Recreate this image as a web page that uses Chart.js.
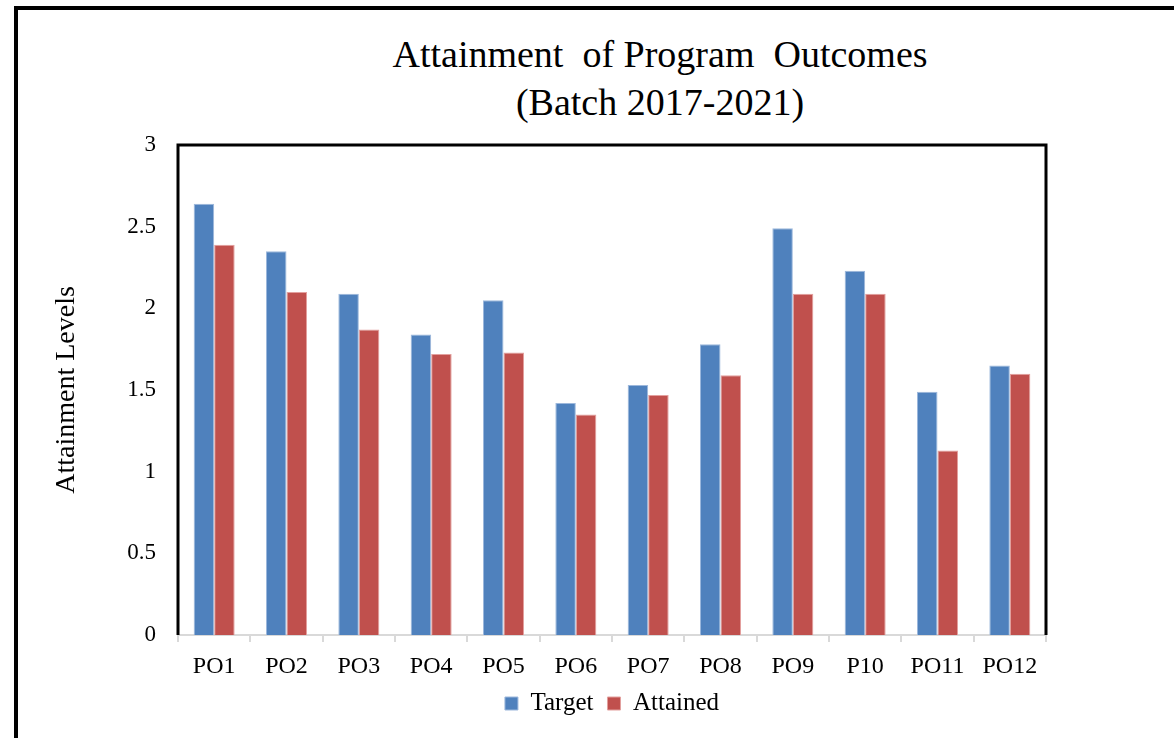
<!DOCTYPE html>
<html lang="en">
<head>
    <meta charset="UTF-8">
    <title>Attainment of Program Outcomes</title>
    <script src="https://cdn.jsdelivr.net/npm/chart.js"></script>
    <style>
        html, body { margin: 0; padding: 0; background: #fff; overflow: hidden; }
        .page { position: relative; width: 1174px; height: 738px; overflow: hidden; }
        .frame { position: absolute; left: 14px; top: 6px; width: 1300px; height: 900px;
                 border-top: 4px solid #000; border-left: 4px solid #000; }
        .title { position: absolute; left: 340px; width: 640px; top: 30px; text-align: center;
                 font-family: "Liberation Serif", "Times New Roman", serif; font-size: 38px;
                 line-height: 48px; color: #000; }
        canvas { position: absolute; left: 0; top: 0; }
    </style>
</head>
<body>
<div class="page">
    <div class="frame"></div>
    <div class="title">Attainment&nbsp; of Program&nbsp; Outcomes<br>(Batch 2017-2021)</div>
    <canvas id="poChart" width="1174" height="738"></canvas>
</div>
<script>
    const categories = ['PO1', 'PO2', 'PO3', 'PO4', 'PO5', 'PO6', 'PO7', 'PO8', 'PO9', 'P10', 'PO11', 'PO12'];
    const targetValues = [2.64, 2.35, 2.09, 1.84, 2.05, 1.42, 1.53, 1.78, 2.49, 2.23, 1.49, 1.65];
    const attainedValues = [2.39, 2.10, 1.87, 1.72, 1.73, 1.35, 1.47, 1.59, 2.09, 2.09, 1.13, 1.60];
    const yTicks = [0, 0.5, 1, 1.5, 2, 2.5, 3];

    const serif = '"Liberation Serif", "Times New Roman", serif';

    // black box round the plot area (left, top, right)
    const plotFrame = {
        id: 'plotFrame',
        afterDatasetsDraw(chart) {
            const { ctx, chartArea: a } = chart;
            ctx.save();
            ctx.strokeStyle = '#000';
            ctx.lineWidth = 3;
            ctx.beginPath();
            ctx.moveTo(a.left, a.bottom);
            ctx.lineTo(a.left, a.top);
            ctx.lineTo(a.right, a.top);
            ctx.lineTo(a.right, a.bottom);
            ctx.stroke();
            ctx.restore();
        }
    };

    new Chart(document.getElementById('poChart'), {
        type: 'bar',
        data: {
            labels: categories,
            datasets: [
                {
                    label: 'Target',
                    data: targetValues,
                    backgroundColor: '#4f81bd',
                    borderColor: '#9db8dc',
                    borderWidth: 1
                },
                {
                    label: 'Attained',
                    data: attainedValues,
                    backgroundColor: '#c0504d',
                    borderColor: '#e3a09e',
                    borderWidth: 1
                }
            ]
        },
        options: {
            responsive: false,
            animation: false,
            layout: { padding: { left: 0, top: 145, right: 128, bottom: 12 } },
            datasets: { bar: { categoryPercentage: 0.567, barPercentage: 1 } },
            plugins: {
                legend: {
                    position: 'bottom',
                    fullSize: false,
                    labels: {
                        boxWidth: 13, boxHeight: 13, padding: 14,
                        color: '#000',
                        font: { family: serif, size: 25 }
                    }
                },
                tooltip: { enabled: false }
            },
            scales: {
                x: {
                    afterFit(scale) { scale.height = 42; },
                    grid: { display: true, drawOnChartArea: false, drawTicks: true, tickLength: 7, color: '#d9d9d9', lineWidth: 2 },
                    border: { display: true, color: '#d9d9d9', width: 2 },
                    ticks: { color: '#000', padding: 10, font: { family: serif, size: 24 } }
                },
                y: {
                    min: 0,
                    max: 3,
                    afterFit(scale) { scale.width = 178; },
                    afterBuildTicks(scale) { scale.ticks = yTicks.map(v => ({ value: v })); },
                    grid: { display: false },
                    border: { display: false },
                    ticks: { color: '#000', padding: 14, font: { family: serif, size: 23 }, callback: v => String(v) },
                    title: {
                        display: true,
                        text: 'Attainment Levels',
                        color: '#000',
                        padding: { top: 50, bottom: 0 },
                        font: { family: serif, size: 28 }
                    }
                }
            }
        },
        plugins: [plotFrame]
    });
</script>
</body>
</html>
